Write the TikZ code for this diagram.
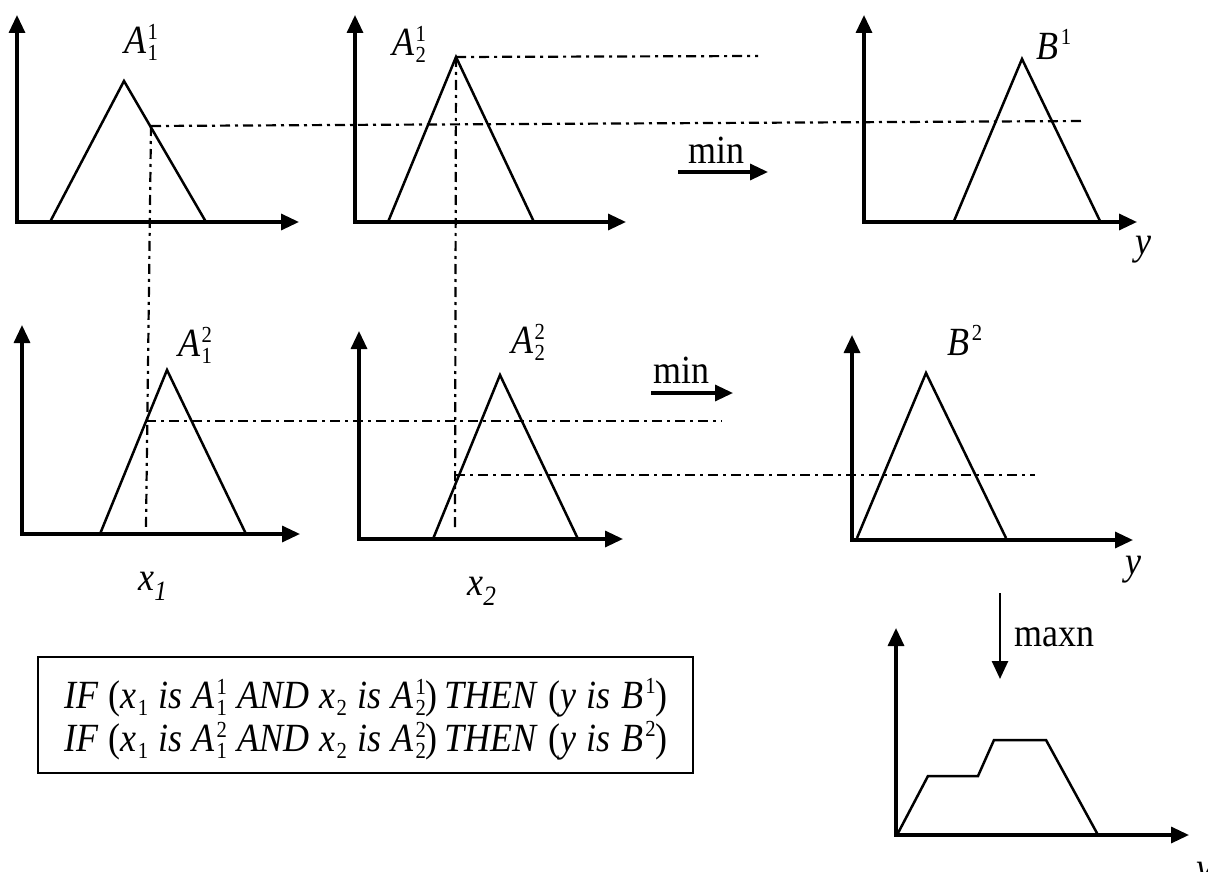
\documentclass[tikz,border=0pt]{standalone}
\usepackage{fontspec}
\setmainfont[FakeStretch=0.9]{Liberation Serif}
\usetikzlibrary{arrows.meta}
\newcommand{\scr}[1]{{\fontsize{23}{23}\selectfont #1}}
\newcommand{\ssb}[3]{\textit{#1}\hspace{1.5pt}\rlap{\raisebox{14pt}{\scr{#2}}}\raisebox{-7pt}{\scr{#3}}}
\newcommand{\sps}[2]{\textit{#1}\hspace{2pt}\raisebox{15pt}{\scr{#2}}}
\newcommand{\sbx}[2]{\textit{#1}\hspace{1pt}\raisebox{-7pt}{\scr{#2}}}
\newcommand{\widesp}{\spaceskip 0.26em\relax}
\begin{document}
\begin{tikzpicture}[x=1pt,y=-1pt,
  ax/.style={line width=3.3pt,line join=miter,{Triangle[length=18pt,width=16pt]}-{Triangle[length=18pt,width=16pt]}},
  oparrow/.style={line width=3.3pt,-{Triangle[length=18pt,width=16pt]}},
  mf/.style={line width=2.5pt,line join=miter},
  dd/.style={line width=2.2pt,dash pattern=on 10pt off 5pt on 3pt off 5pt},
  lbl/.style={font=\fontsize{40}{44}\selectfont,inner sep=0pt},
  rule/.style={font={\fontsize{40}{44}\selectfont\widesp},inner sep=0pt,anchor=west}]
\useasboundingbox (0,0) rectangle (1208,872);
\fill[white] (0,0) rectangle (1208,872);

% ---------- top row ----------
% panel A11
\coordinate (p1o) at (17,222); \coordinate (p1y) at (17,15); \coordinate (p1x) at (299,222);
\draw[ax] (p1y) -- (p1o) -- (p1x);
\coordinate (t1a) at (50,222); \coordinate (t1b) at (124,81); \coordinate (t1c) at (206,222);
\draw[mf] (t1a) -- (t1b) -- (t1c);
\node[lbl] (lA11) at (141,42) {\ssb{A}{1}{1}};

% panel A21
\coordinate (p2o) at (355,222); \coordinate (p2y) at (355,15); \coordinate (p2x) at (626,222);
\draw[ax] (p2y) -- (p2o) -- (p2x);
\coordinate (t2a) at (388,222); \coordinate (t2b) at (456,57); \coordinate (t2c) at (534,222);
\draw[mf] (t2a) -- (t2b) -- (t2c);
\node[lbl] (lA21) at (409,44) {\ssb{A}{1}{2}};

% panel B1
\coordinate (p5o) at (864,222); \coordinate (p5y) at (864,15); \coordinate (p5x) at (1137,222);
\draw[ax] (p5y) -- (p5o) -- (p5x);
\coordinate (t5a) at (954,221); \coordinate (t5b) at (1022,59); \coordinate (t5c) at (1100,221);
\draw[mf] (t5a) -- (t5b) -- (t5c);
\node[lbl] (lB1) at (1054,44) {\sps{B}{1}};
\node[lbl] (ly1) at (1143,250) {\textit{y}};

% min arrow top
\node[lbl] (min1) at (716,150) {min};
\coordinate (m1a) at (678,172); \coordinate (m1b) at (768,172);
\draw[oparrow] (m1a) -- (m1b);

% ---------- middle row ----------
% panel A12
\coordinate (p3o) at (22,534); \coordinate (p3y) at (22,325); \coordinate (p3x) at (300,534);
\draw[ax] (p3y) -- (p3o) -- (p3x);
\coordinate (t3a) at (100,534); \coordinate (t3b) at (167,370); \coordinate (t3c) at (246,534);
\draw[mf] (t3a) -- (t3b) -- (t3c);
\node[lbl] (lA12) at (195,345) {\ssb{A}{2}{1}};
\node[lbl] (lx1) at (153,586) {\textit{x\textsubscript{1}}};

% panel A22
\coordinate (p4o) at (359,539); \coordinate (p4y) at (359,331); \coordinate (p4x) at (623,539);
\draw[ax] (p4y) -- (p4o) -- (p4x);
\coordinate (t4a) at (433,539); \coordinate (t4b) at (500,375); \coordinate (t4c) at (578,539);
\draw[mf] (t4a) -- (t4b) -- (t4c);
\node[lbl] (lA22) at (528,342) {\ssb{A}{2}{2}};
\node[lbl] (lx2) at (482,591) {\textit{x\textsubscript{2}}};

% panel B2
\coordinate (p6o) at (852,540); \coordinate (p6y) at (852,335); \coordinate (p6x) at (1133,540);
\draw[ax] (p6y) -- (p6o) -- (p6x);
\coordinate (t6a) at (857,538); \coordinate (t6b) at (926,373); \coordinate (t6c) at (1006,538);
\draw[mf] (t6a) -- (t6b) -- (t6c);
\node[lbl] (lB2) at (965,340) {\sps{B}{2}};
\node[lbl] (ly2) at (1133,570) {\textit{y}};

% min arrow middle
\node[lbl] (min2) at (681,370) {min};
\coordinate (m2a) at (651,393); \coordinate (m2b) at (733,393);
\draw[oparrow] (m2a) -- (m2b);

% ---------- dash-dot guide lines ----------
\coordinate (d1s) at (151,126); \coordinate (d1e) at (1085,121);
\coordinate (d1v) at (146,527);
\draw[dd] (d1s) -- (d1e);
\draw[dd] (d1s) -- (d1v);
\coordinate (d2e) at (758,56); \coordinate (d2v) at (455,530);
\draw[dd] (t2b) -- (d2e);
\draw[dd] (t2b) -- (d2v);
\coordinate (d3s) at (146,421); \coordinate (d3e) at (722,421);
\draw[dd] (d3s) -- (d3e);
\coordinate (d4s) at (455,475); \coordinate (d4e) at (1035,475);
\draw[dd] (d4s) -- (d4e);

% ---------- aggregation ----------
\coordinate (mxa) at (1000,593); \coordinate (mxb) at (1000,679);
\draw[line width=2.6pt,-{Triangle[length=18pt,width=16pt]}] (mxa) -- (mxb);
\node[lbl,anchor=west] (maxn) at (1014,637) {maxn};

\coordinate (p7o) at (896,835); \coordinate (p7y) at (896,628); \coordinate (p7x) at (1189,835);
\draw[ax] (p7y) -- (p7o) -- (p7x);
\coordinate (c1) at (897,835); \coordinate (c2) at (928,776); \coordinate (c3) at (978,776);
\coordinate (c4) at (994,740); \coordinate (c5) at (1046,740); \coordinate (c6) at (1098,835);
\draw[mf] (c1) -- (c2) -- (c3) -- (c4) -- (c5) -- (c6);
\node[lbl] (ly3) at (1204,876) {\textit{y}};

% ---------- rule box ----------
\node[draw,line width=1.3pt,minimum width=655pt,minimum height=116pt,inner sep=0pt] (box) at (365.5,715) {};
\node[rule] (r1) at (64,698) {\textit{IF} (\sbx{x}{1} \textit{is} \ssb{A}{1}{1} \textit{AND} \sbx{x}{2} \textit{is} \ssb{A}{1}{2})\,\textit{THEN} (\textit{y is} \sps{B}{1})};
\node[rule] (r2) at (64,741) {\textit{IF} (\sbx{x}{1} \textit{is} \ssb{A}{2}{1} \textit{AND} \sbx{x}{2} \textit{is} \ssb{A}{2}{2})\,\textit{THEN} (\textit{y is} \sps{B}{2})};
\end{tikzpicture}
\end{document}
